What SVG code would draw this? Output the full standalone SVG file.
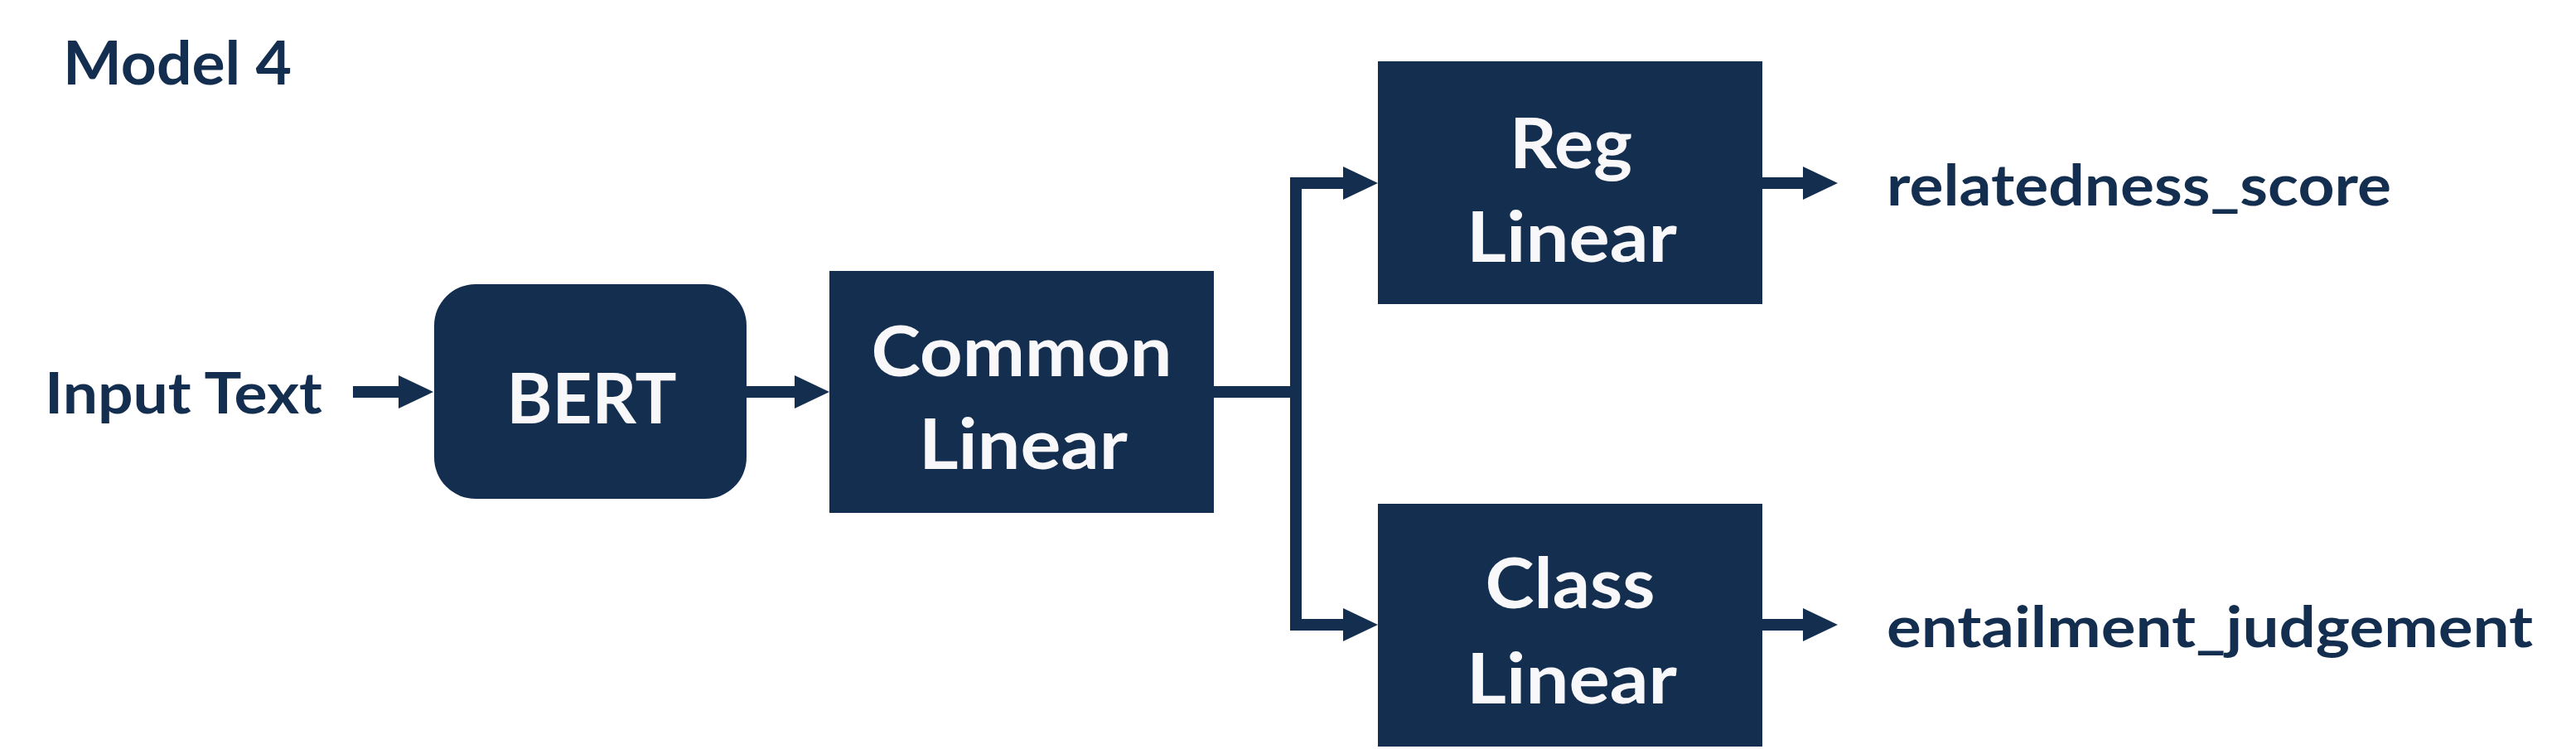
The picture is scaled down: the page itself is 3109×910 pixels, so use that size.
<svg xmlns="http://www.w3.org/2000/svg" width="3109" height="910" viewBox="0 0 3109 910">
<style>
.box{fill:#142e50}
.lbl{font-family:Lato,"Open Sans","Liberation Sans",sans-serif;font-weight:700;fill:#142e50}
.in{font-family:Lato,"Open Sans","Liberation Sans",sans-serif;font-weight:700;fill:#f8f7f9;font-size:85px}
.con{fill:none;stroke:#142e50;stroke-width:14;stroke-linejoin:miter}
</style>
<defs>
<marker id="ah" markerUnits="userSpaceOnUse" markerWidth="42" markerHeight="40" refX="2" refY="20" orient="auto">
<path d="M0,0 L42,20 L0,40 z" fill="#142e50"/>
</marker>
</defs>
<rect width="3109" height="910" fill="#ffffff"/>
<text id="title" class="lbl" x="76" y="102" font-size="72" textLength="276" lengthAdjust="spacingAndGlyphs">Model 4</text>
<g id="input"><text class="lbl" x="54" y="499" font-size="68" textLength="335" lengthAdjust="spacingAndGlyphs">Input Text</text></g>
<g id="bert">
<rect class="box" x="524" y="343" width="377" height="259" rx="50" ry="50"/>
<text class="in" x="714" y="511" text-anchor="middle" textLength="205" lengthAdjust="spacingAndGlyphs">BERT</text>
</g>
<g id="common">
<rect class="box" x="1001" y="327" width="464" height="292"/>
<text class="in" x="1233" y="454" text-anchor="middle" textLength="363" lengthAdjust="spacingAndGlyphs">Common</text>
<text class="in" x="1235" y="566" text-anchor="middle" textLength="252" lengthAdjust="spacingAndGlyphs">Linear</text>
</g>
<g id="reg">
<rect class="box" x="1663" y="74" width="464" height="293"/>
<text class="in" x="1896" y="203" text-anchor="middle" textLength="148" lengthAdjust="spacingAndGlyphs">Reg</text>
<text class="in" x="1897" y="316" text-anchor="middle" textLength="254" lengthAdjust="spacingAndGlyphs">Linear</text>
</g>
<g id="class">
<rect class="box" x="1663" y="608" width="464" height="293"/>
<text class="in" x="1895" y="734" text-anchor="middle" textLength="205" lengthAdjust="spacingAndGlyphs">Class</text>
<text class="in" x="1897" y="849" text-anchor="middle" textLength="254" lengthAdjust="spacingAndGlyphs">Linear</text>
</g>
<g id="out-score"><text class="lbl" x="2277" y="248" font-size="68" textLength="609" lengthAdjust="spacingAndGlyphs">relatedness_score</text></g>
<g id="out-entail"><text class="lbl" x="2277" y="781" font-size="68" textLength="780" lengthAdjust="spacingAndGlyphs">entailment_judgement</text></g>
<g id="connectors">
<path class="con" d="M426,473 H483" marker-end="url(#ah)"/>
<path class="con" d="M901,473 H961" marker-end="url(#ah)"/>
<path class="con" d="M1465,473 H1564 V221 H1623" marker-end="url(#ah)"/>
<path class="con" d="M1564,473 V754 H1623" marker-end="url(#ah)"/>
<path class="con" d="M2127,221 H2178" marker-end="url(#ah)"/>
<path class="con" d="M2127,754 H2178" marker-end="url(#ah)"/>
</g>
</svg>
